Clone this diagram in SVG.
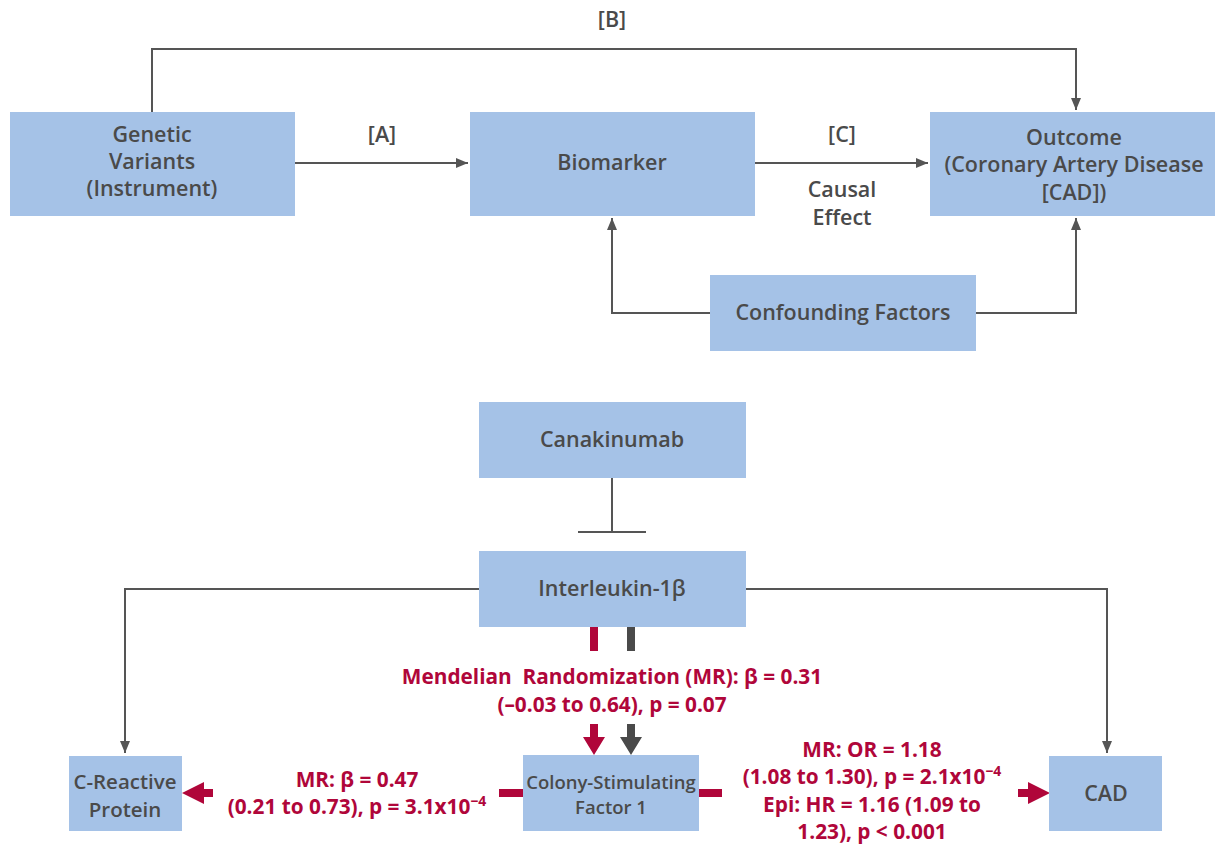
<svg xmlns="http://www.w3.org/2000/svg" width="1222" height="846" viewBox="0 0 1222 846">
<style>
.box{fill:#a5c2e7;}
.t{font-family:"Open Sans","Noto Sans",sans-serif;font-weight:600;font-size:21.5px;fill:#4a4a4a;text-anchor:middle;}
.r{font-family:"Open Sans","Noto Sans",sans-serif;font-weight:700;font-size:20.8px;fill:#b0063a;text-anchor:middle;}
.s{font-size:18.5px;}
.m{font-size:20.5px;}
.ln{fill:none;stroke:#555;stroke-width:2;}
.rb{fill:#b0063a;}
.gb{fill:#4a4a4a;}
</style>
<defs>
<marker id="ah" markerWidth="12" markerHeight="10" refX="12" refY="5" orient="auto" markerUnits="userSpaceOnUse">
<path d="M0,0 L12,5 L0,10 Z" fill="#555"/>
</marker>
</defs>
<rect width="1222" height="846" fill="#fff"/>
<g id="connectors">
<path class="ln" d="M152,112 V49 H1076 V110" marker-end="url(#ah)"/>
<path class="ln" d="M295,163 H468" marker-end="url(#ah)"/>
<path class="ln" d="M755,163 H928" marker-end="url(#ah)"/>
<path class="ln" d="M710,313 H612 V218" marker-end="url(#ah)"/>
<path class="ln" d="M976,313 H1076 V218" marker-end="url(#ah)"/>
<path class="ln" d="M612,478 V532 M578,532 H646"/>
<path class="ln" d="M479,589 H125 V753" marker-end="url(#ah)"/>
<path class="ln" d="M746,589 H1107 V753" marker-end="url(#ah)"/>
<rect class="rb" x="590" y="627" width="8" height="24"/>
<rect class="gb" x="627" y="627" width="8" height="24"/>
<path class="rb" d="M590,724 H598 V737 H605 L594,755 L583,737 H590 Z"/>
<path class="gb" d="M627,724 H635 V737 H642 L631,755 L620,737 H627 Z"/>
<rect class="rb" x="499" y="789" width="24" height="8"/>
<path class="rb" d="M213,789 V797 H204 V804 L182,793 L204,782 V789 Z"/>
<rect class="rb" x="699" y="789" width="23" height="8"/>
<path class="rb" d="M1018,789 V797 H1028 V804 L1050,793 L1028,782 V789 Z"/>
</g>
<g id="label-B"><text class="t" x="612" y="27">[B]</text></g>
<g id="label-A"><text class="t" x="382" y="142">[A]</text></g>
<g id="label-C"><text class="t" x="842" y="142">[C]</text><text class="t" x="842" y="197">Causal</text><text class="t" x="842" y="225">Effect</text></g>
<g id="genetic">
<rect class="box" x="10" y="112" width="285" height="104"/>
<text class="t" x="152" y="142">Genetic</text>
<text class="t" x="152" y="169">Variants</text>
<text class="t" x="152" y="196">(Instrument)</text>
</g>
<g id="biomarker">
<rect class="box" x="470" y="112" width="285" height="104"/>
<text class="t" x="612" y="170">Biomarker</text>
</g>
<g id="outcome">
<rect class="box" x="930" y="112" width="285" height="104"/>
<text class="t" x="1074" y="145">Outcome</text>
<text class="t" x="1074" y="172">(Coronary Artery Disease</text>
<text class="t" x="1074" y="200">[CAD])</text>
</g>
<g id="confounding">
<rect class="box" x="710" y="275" width="266" height="76"/>
<text class="t" x="843" y="320">Confounding Factors</text>
</g>
<g id="canakinumab">
<rect class="box" x="479" y="402" width="267" height="76"/>
<text class="t" x="612" y="447">Canakinumab</text>
</g>
<g id="interleukin">
<rect class="box" x="479" y="551" width="267" height="76"/>
<text class="t" x="612" y="596">Interleukin-1β</text>
</g>
<g id="crp">
<rect class="box" x="69" y="756" width="113" height="75"/>
<text class="t m" x="125" y="789">C-Reactive</text>
<text class="t m" x="125" y="817">Protein</text>
</g>
<g id="csf1">
<rect class="box" x="523" y="755" width="176" height="76"/>
<text class="t s" x="611" y="789">Colony-Stimulating</text>
<text class="t s" x="611" y="814">Factor 1</text>
</g>
<g id="cad">
<rect class="box" x="1049" y="756" width="113" height="75"/>
<text class="t" x="1106" y="801">CAD</text>
</g>
<g id="mr-label">
<text class="r" x="612" y="684" xml:space="preserve">Mendelian  Randomization (MR): β = 0.31</text>
<text class="r" x="612" y="712">(–0.03 to 0.64), p = 0.07</text>
</g>
<g id="crp-label">
<text class="r" x="357" y="787">MR: β = 0.47</text>
<text class="r" x="357" y="814">(0.21 to 0.73), p = 3.1x10<tspan dy="-8" font-size="14">−4</tspan></text>
</g>
<g id="cad-label">
<text class="r" x="872" y="757">MR: OR = 1.18</text>
<text class="r" x="872" y="784">(1.08 to 1.30), p = 2.1x10<tspan dy="-8" font-size="14">−4</tspan></text>
<text class="r" x="872" y="812">Epi: HR = 1.16 (1.09 to</text>
<text class="r" x="872" y="839">1.23), p &lt; 0.001</text>
</g>
</svg>
